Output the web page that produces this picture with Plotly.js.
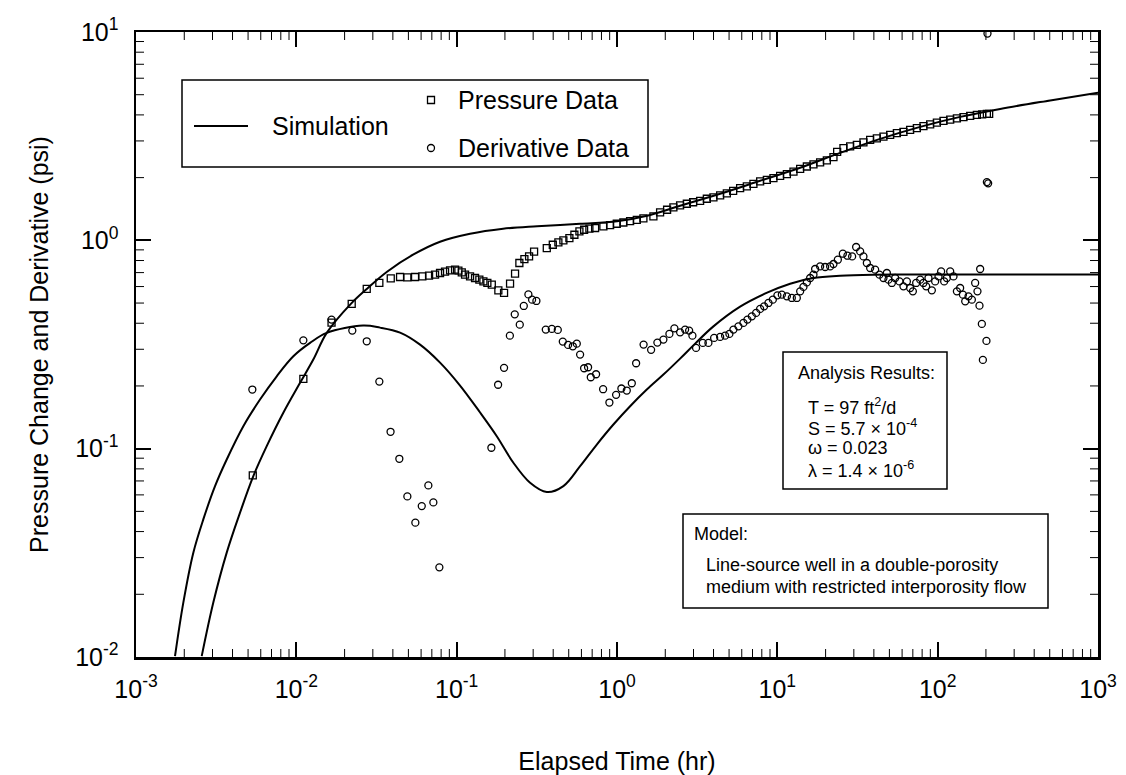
<!DOCTYPE html>
<html>
<head>
<meta charset="utf-8">
<script src="https://cdn.plot.ly/plotly-3.0.1.min.js"></script>
<style>
  html, body { margin: 0; padding: 0; background: #fff; }
  #chart { width: 1126px; height: 775px; }
</style>
</head>
<body>
<div id="chart"></div>
<script>
// ---------------- data ----------------
const pressureTime = [0.00535, 0.01106, 0.01658, 0.02215, 0.02749, 0.03294, 0.03881, 0.04435, 0.04926, 0.05501,
  0.06109, 0.06727, 0.07332, 0.07876, 0.08465, 0.09095, 0.09772, 0.1025, 0.1076, 0.1128,
  0.1212, 0.1302, 0.1385, 0.1468, 0.1554, 0.1656, 0.1820, 0.1975, 0.2153, 0.2313,
  0.2461, 0.2645, 0.2829, 0.3040, 0.3648, 0.3977, 0.4309, 0.4630, 0.5047, 0.5424,
  0.5829, 0.6235, 0.6727, 0.7302, 0.8226, 0.9058, 0.9970, 1.096, 1.207, 1.329,
  1.461, 1.687, 1.857, 2.053, 2.248, 2.475, 2.726, 2.984, 3.299, 3.633,
  3.995, 4.398, 4.842, 5.301, 5.861, 6.452, 7.094, 7.812, 8.602, 9.456,
  10.41, 11.47, 12.61, 13.88, 15.28, 16.80, 18.49, 20.36, 22.39, 23.61,
  25.85, 28.46, 31.33, 34.44, 37.92, 41.75, 45.91, 50.54, 55.67, 61.18,
  67.34, 74.17, 81.53, 89.79, 98.86, 108.7, 119.7, 131.8, 144.9, 159.5,
  175.6, 189.5, 202.7, 209.5];
const pressureChange = [0.0744, 0.2163, 0.4027, 0.4951, 0.5843, 0.6242, 0.6566, 0.6668, 0.6639, 0.6668,
  0.6713, 0.6766, 0.6841, 0.6970, 0.7072, 0.7174, 0.7231, 0.7151, 0.7018, 0.6841,
  0.6713, 0.6595, 0.6474, 0.6353, 0.6242, 0.6127, 0.5752, 0.5590, 0.6193, 0.6917,
  0.7785, 0.8133, 0.8371, 0.8817, 0.9185, 0.9526, 0.9770, 0.9989, 1.0257, 1.0637,
  1.1033, 1.124, 1.137, 1.146, 1.166, 1.184, 1.201, 1.218, 1.237, 1.255,
  1.276, 1.302, 1.363, 1.402, 1.441, 1.473, 1.498, 1.523, 1.548, 1.583,
  1.609, 1.645, 1.682, 1.729, 1.781, 1.817, 1.868, 1.920, 1.952, 1.989,
  2.040, 2.078, 2.139, 2.204, 2.261, 2.317, 2.368, 2.421, 2.508, 2.659,
  2.770, 2.825, 2.872, 2.952, 3.035, 3.085, 3.148, 3.207, 3.268, 3.315,
  3.389, 3.453, 3.531, 3.602, 3.674, 3.744, 3.798, 3.848, 3.900, 3.956,
  4.000, 4.022, 4.045, 4.045];

const derivTime = [0.005316, 0.01106, 0.01658, 0.02234, 0.02749, 0.03294, 0.03870, 0.04390, 0.04926, 0.05525,
  0.06057, 0.06659, 0.07154, 0.07800, 0.1646, 0.1813, 0.1975, 0.2147, 0.2303, 0.2475,
  0.2622, 0.2801, 0.2954, 0.3143, 0.3596, 0.3921, 0.4272, 0.4590, 0.4953, 0.5301,
  0.5613, 0.5887, 0.6235, 0.6602, 0.6862, 0.7406, 0.8190, 0.8966, 0.9872, 1.065,
  1.151, 1.237, 1.316, 1.465, 1.632, 1.786, 1.947, 2.123, 2.280, 2.475,
  2.660, 2.818, 2.953, 3.113, 3.429, 3.717, 4.035, 4.398, 4.724, 5.024,
  5.323, 5.719, 6.144, 6.508, 6.933, 7.375, 7.812, 8.272, 8.802, 9.374,
  10.01, 10.67, 11.47, 12.31, 13.23, 13.88, 14.55, 15.28, 16.02, 16.80,
  17.21, 18.49, 19.87, 21.35, 22.39, 23.85, 25.62, 27.37, 29.28, 31.01,
  32.85, 34.44, 36.16, 37.92, 40.74, 43.35, 45.91, 48.21, 49.33, 51.79,
  54.31, 57.77, 61.18, 64.26, 67.34, 70.03, 73.44, 77.79, 81.53, 84.79,
  87.62, 91.99, 96.47, 101.2, 105.1, 109.8, 114.1, 119.7, 125.5, 131.8,
  138.1, 143.7, 148.5, 155.7, 163.4, 171.3, 177.1, 182.3, 184.1, 188.6,
  191.4, 201.5, 202.7, 206.5, 204.5];
const derivative = [0.1922, 0.3312, 0.4163, 0.3687, 0.3276, 0.2099, 0.1205, 0.0894, 0.0590, 0.04413,
  0.05301, 0.06662, 0.05522, 0.02694, 0.1010, 0.2027, 0.2443, 0.3488, 0.4414, 0.3938,
  0.4842, 0.5503, 0.5189, 0.5116, 0.3728, 0.3757, 0.3715, 0.3265, 0.3148, 0.3100,
  0.3193, 0.2829, 0.2432, 0.2459, 0.2202, 0.2276, 0.1929, 0.1665, 0.1813, 0.1944,
  0.1901, 0.2061, 0.2570, 0.3158, 0.2982, 0.3229, 0.3338, 0.3555, 0.3782, 0.3618,
  0.3728, 0.3687, 0.3488, 0.3046, 0.3218, 0.3218, 0.3401, 0.3439, 0.3488, 0.3555,
  0.3728, 0.3866, 0.4014, 0.4163, 0.4317, 0.4482, 0.4685, 0.4820, 0.5005, 0.5189,
  0.5443, 0.5486, 0.5384, 0.5290, 0.5290, 0.5689, 0.5974, 0.6283, 0.6595, 0.6841,
  0.7285, 0.7498, 0.7447, 0.7498, 0.7699, 0.8072, 0.8626, 0.8437, 0.8371, 0.9288,
  0.8847, 0.8371, 0.7785, 0.7366, 0.7231, 0.6841, 0.6595, 0.6970, 0.6474, 0.6242,
  0.6595, 0.6353, 0.6012, 0.6353, 0.5906, 0.5689, 0.6242, 0.6474, 0.6242, 0.6012,
  0.6595, 0.5752, 0.6353, 0.6713, 0.7095, 0.6353, 0.6595, 0.7095, 0.6713, 0.5689,
  0.5906, 0.5486, 0.5094, 0.5384, 0.5189, 0.6242, 0.5689, 0.4859, 0.7285, 0.3969,
  0.2668, 0.3291, 1.903, 1.878, 9.83];

const simPressTime = [0.002570, 0.003035, 0.003680, 0.004455, 0.005392, 0.006536, 0.008295, 0.01055, 0.01276, 0.01547,
  0.02195, 0.02761, 0.03679, 0.05346, 0.07876, 0.1212, 0.1948, 0.3175, 0.5887, 1.0014,
  1.541, 2.475, 4.398, 7.812, 13.88, 24.65, 43.79, 77.79, 138.1, 245.4,
  503.1, 1000];
const simPress = [0.0101, 0.01825, 0.03169, 0.04928, 0.07384, 0.1028, 0.1487, 0.2070, 0.2677, 0.3594,
  0.4968, 0.5861, 0.7072, 0.8532, 0.9847, 1.0755, 1.137, 1.169, 1.201, 1.235,
  1.312, 1.465, 1.673, 1.931, 2.229, 2.630, 3.069, 3.504, 3.913, 4.274,
  4.695, 5.117];

const simDerivTime = [0.001751, 0.001973, 0.002278, 0.002629, 0.003111, 0.003680, 0.004671, 0.005936, 0.007546, 0.009579,
  0.01218, 0.01547, 0.02607, 0.03327, 0.04435, 0.05911, 0.07876, 0.1050, 0.1400, 0.1779,
  0.2258, 0.2870, 0.3648, 0.4630, 0.5887, 0.7482, 0.9495, 1.207, 1.534, 1.947,
  2.475, 3.071, 3.977, 5.861, 8.638, 12.02, 16.72, 24.65, 39.60, 64.53,
  245.4, 1000];
const simDeriv = [0.0101, 0.01825, 0.03169, 0.04576, 0.06610, 0.08875, 0.1282, 0.1721, 0.2226, 0.2776,
  0.3218, 0.3594, 0.3897, 0.3811, 0.3606, 0.3158, 0.2589, 0.2009, 0.1491, 0.1148,
  0.0856, 0.0686, 0.0619, 0.0661, 0.0824, 0.1047, 0.1306, 0.1599, 0.1922, 0.2268,
  0.2706, 0.3193, 0.3853, 0.4805, 0.5608, 0.6193, 0.6595, 0.6766, 0.6841, 0.685,
  0.685, 0.685];

const xTickVals = [0.001, 0.01, 0.1, 1, 10, 100, 1000];
const xTickText = ['10<sup>-3</sup>', '10<sup>-2</sup>', '10<sup>-1</sup>', '10<sup>0</sup>', '10<sup>1</sup>', '10<sup>2</sup>', '10<sup>3</sup>'];
const yTickVals = [0.01, 0.1, 1, 10];
const yTickText = ['10<sup>-2</sup>', '10<sup>-1</sup>', '10<sup>0</sup>', '10<sup>1</sup>'];

const legendLabels = ['Simulation', 'Pressure Data', 'Derivative Data'];
const resultsTitle = 'Analysis Results:';
const resultsLines = ['T = 97 ft<sup>2</sup>/d', 'S = 5.7 × 10<sup>-4</sup>', 'ω = 0.023', 'λ = 1.4 × 10<sup>-6</sup>'];
const modelTitle = 'Model:';
const modelLines = ['Line-source well in a double-porosity', 'medium with restricted interporosity flow'];

// ---------------- chart ----------------
const FONT = 'Liberation Sans, Arial, Helvetica, sans-serif';
const INK = '#000';

const traces = [
  { x: simPressTime, y: simPress, type: 'scatter', mode: 'lines', name: 'Simulation',
    line: { color: INK, width: 2, shape: 'spline', smoothing: 1 }, showlegend: false },
  { x: simDerivTime, y: simDeriv, type: 'scatter', mode: 'lines', name: 'Simulation (derivative)',
    line: { color: INK, width: 2, shape: 'spline', smoothing: 1 }, showlegend: false },
  { x: pressureTime, y: pressureChange, type: 'scatter', mode: 'markers', name: 'Pressure Data',
    marker: { symbol: 'square-open', size: 7, color: INK, line: { width: 1.3, color: INK } }, showlegend: false },
  { x: derivTime, y: derivative, type: 'scatter', mode: 'markers', name: 'Derivative Data',
    marker: { symbol: 'circle-open', size: 7, color: INK, line: { width: 1.3, color: INK } }, showlegend: false }
];

// plot area in page pixels: left 136, right 1098, top 32, bottom 657
const PL = 136, PR = 1098, PT = 32, PB = 657;
const px = v => (v - PL) / (PR - PL);
const py = v => (PB - v) / (PB - PT);

const boxLine = { color: INK, width: 1.5 };
const shapes = [
  // legend box
  { type: 'rect', xref: 'paper', yref: 'paper', x0: px(182), x1: px(648), y0: py(167), y1: py(80), line: boxLine, fillcolor: '#fff', layer: 'above' },
  { type: 'line', xref: 'paper', yref: 'paper', x0: px(194), x1: px(248), y0: py(126), y1: py(126), line: { color: INK, width: 2 } },
  { type: 'rect', xref: 'paper', yref: 'paper', xsizemode: 'pixel', ysizemode: 'pixel',
    xanchor: px(431), yanchor: py(100), x0: -3.5, x1: 3.5, y0: -3.5, y1: 3.5, line: { color: INK, width: 1.3 } },
  { type: 'circle', xref: 'paper', yref: 'paper', xsizemode: 'pixel', ysizemode: 'pixel',
    xanchor: px(431), yanchor: py(148), x0: -3.5, x1: 3.5, y0: -3.5, y1: 3.5, line: { color: INK, width: 1.3 } },
  // analysis results box
  { type: 'rect', xref: 'paper', yref: 'paper', x0: px(783), x1: px(947), y0: py(489), y1: py(352), line: boxLine, fillcolor: '#fff', layer: 'below' },
  // model box
  { type: 'rect', xref: 'paper', yref: 'paper', x0: px(683), x1: px(1048), y0: py(608), y1: py(514), line: boxLine, fillcolor: '#fff', layer: 'below' }
];

// minor ticks (2..9 in every decade) on all four sides, placed through the log axes (data values)
const MINOR_LEN = 8;
const minorLine = { color: INK, width: 1 };
for (let e = -3; e < 3; e++) {
  for (let m = 2; m <= 9; m++) {
    const v = m * Math.pow(10, e);
    shapes.push({ type: 'line', xref: 'x', yref: 'paper', x0: v, x1: v, ysizemode: 'pixel', yanchor: 0, y0: 0, y1: MINOR_LEN, line: minorLine, layer: 'above' });
    shapes.push({ type: 'line', xref: 'x', yref: 'paper', x0: v, x1: v, ysizemode: 'pixel', yanchor: 1, y0: 0, y1: -MINOR_LEN, line: minorLine, layer: 'above' });
  }
}
for (let e = -2; e < 1; e++) {
  for (let m = 2; m <= 9; m++) {
    const v = m * Math.pow(10, e);
    shapes.push({ type: 'line', yref: 'y', xref: 'paper', y0: v, y1: v, xsizemode: 'pixel', xanchor: 0, x0: 0, x1: MINOR_LEN, line: minorLine, layer: 'above' });
    shapes.push({ type: 'line', yref: 'y', xref: 'paper', y0: v, y1: v, xsizemode: 'pixel', xanchor: 1, x0: 0, x1: -MINOR_LEN, line: minorLine, layer: 'above' });
  }
}

const ann = (text, x, y, size) => ({ text, xref: 'paper', yref: 'paper', x: px(x), y: py(y),
  xanchor: 'left', yanchor: 'middle', showarrow: false, font: { family: FONT, size, color: INK } });

const annotations = [
  ann(legendLabels[0], 270, 126, 25),
  ann(legendLabels[1], 456, 100, 25),
  ann(legendLabels[2], 456, 148, 25),
  ann(resultsTitle, 796, 373, 18),
  ann(resultsLines[0], 806, 406, 18),
  ann(resultsLines[1], 806, 427, 18),
  ann(resultsLines[2], 806, 448, 18),
  ann(resultsLines[3], 806, 469, 18),
  ann(modelTitle, 692, 534, 18),
  ann(modelLines[0], 704, 565, 18),
  ann(modelLines[1], 704, 587, 18)
];

const axisCommon = {
  type: 'log', showgrid: false, zeroline: false,
  showline: true, linecolor: INK, linewidth: 2.5, mirror: 'ticks',
  ticks: 'inside', ticklen: 15, tickwidth: 1.8, tickcolor: INK,
  tickmode: 'array',
  tickfont: { family: FONT, size: 25, color: INK },
  automargin: false
};

const layout = {
  width: 1126, height: 775,
  margin: { l: PL, r: 1126 - PR, t: PT, b: 775 - PB, pad: 0 },
  paper_bgcolor: '#fff', plot_bgcolor: '#fff',
  showlegend: false,
  font: { family: FONT, color: INK },
  xaxis: Object.assign({}, axisCommon, {
    range: [-3, 3], tickvals: xTickVals, ticktext: xTickText, ticklabelstandoff: 8,
    title: { text: 'Elapsed Time (hr)', font: { family: FONT, size: 25, color: INK }, standoff: 52 }
  }),
  yaxis: Object.assign({}, axisCommon, {
    range: [-2, 1], tickvals: yTickVals, ticktext: yTickText, ticklabelstandoff: 10,
    title: { text: 'Pressure Change and Derivative (psi)', font: { family: FONT, size: 25, color: INK }, standoff: 20 }
  }),
  shapes, annotations
};

Plotly.newPlot('chart', traces, layout, { displayModeBar: false, staticPlot: true });
</script>
</body>
</html>
